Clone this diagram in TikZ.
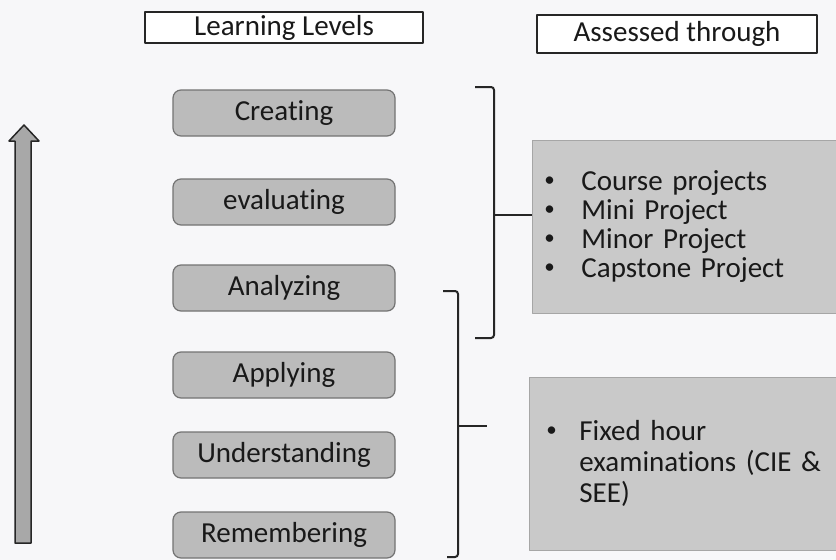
\documentclass[tikz,border=0pt]{standalone}
\usepackage{fontspec}
\setmainfont{Carlito}[Ligatures=NoCommon]
\usetikzlibrary{positioning}
\definecolor{paper}{HTML}{F7F7F9}
\definecolor{levelgray}{HTML}{BBBBBB}
\definecolor{assessgray}{HTML}{C9C9C9}
\definecolor{arrowgray}{HTML}{A8A8A8}
\newcommand{\smallbul}{\raisebox{0.14em}{\fontsize{21}{21}\selectfont\textbullet}}

\begin{document}
\begin{tikzpicture}[x=1pt, y=-1pt, line join=round, font=\fontsize{29}{29}\selectfont, text=black!90]
	\tikzstyle{head}=[draw=black!85, line width=1.4pt, fill=white, minimum height=31pt, inner sep=0pt]
	\tikzstyle{level}=[draw=black!55, line width=1.2pt, fill=levelgray, rounded corners=8pt, minimum width=222pt, minimum height=46pt, inner sep=0pt]
	\tikzstyle{assess}=[draw=black!35, line width=0.8pt, fill=assessgray, anchor=north west, inner ysep=0pt, align=left]
	\tikzstyle{bracket}=[draw=black!85, line width=2pt, rounded corners=3pt]

	\useasboundingbox[fill=paper] (0,0) rectangle (836,560);

	% Draw headers
	\node[head, minimum width=278pt] (levels) at (284,27.5) {Learning Levels};
	\node[head, minimum width=280pt, minimum height=38pt] (assessed) at (677,34) {Assessed through};

	% Draw growth arrow
	\filldraw[fill=arrowgray, draw=black!85, line width=1.5pt] (15,543) -- (15,141) -- (9,141) -- (24,125) -- (39,141) -- (31,141) -- (31,543) -- cycle;

	% Draw learning levels
	\node[level] (creating) at (284,113) {Creating};
	\node[level] (evaluating) at (284,202) {evaluating};
	\node[level] (analyzing) at (284,288) {Analyzing};
	\node[level] (applying) at (284,375) {Applying};
	\node[level] (understanding) at (284,455) {Understanding};
	\node[level] (remembering) at (284,535) {Remembering};

	% Draw assessment boxes
	\node[assess, minimum width=304pt, minimum height=173pt, inner xsep=12pt, text width=280pt] (projects) at (532,140)
		{\makebox[37pt][l]{\smallbul}Course projects\\
		 \makebox[37pt][l]{\smallbul}Mini Project\\
		 \makebox[37pt][l]{\smallbul}Minor Project\\
		 \makebox[37pt][l]{\smallbul}Capstone Project};
	\node[assess, minimum width=307pt, minimum height=173pt, inner xsep=17pt, text width=273pt, font=\fontsize{29}{31}\selectfont] (exams) at (529,377)
		{\makebox[33pt][l]{\smallbul}Fixed hour\\
		 \hspace*{33pt}\mbox{examinations (CIE \&}\\
		 \hspace*{33pt}SEE)};

	% Draw brackets
	\coordinate (ubtop) at (475,87);
	\coordinate (ubmid) at (494,215);
	\coordinate (ubbot) at (475,338);
	\draw[bracket] (ubtop) -| (ubmid) |- (ubbot);
	\draw[bracket] (ubmid) -- (ubmid -| projects.west);

	\coordinate (lbtop) at (443,291);
	\coordinate (lbmid) at (458,426);
	\coordinate (lbbot) at (447,557);
	\coordinate (lbend) at (487,426);
	\draw[bracket] (lbtop) -| (lbmid) |- (lbbot);
	\draw[bracket] (lbmid) -- (lbend);

\end{tikzpicture}
\end{document}
